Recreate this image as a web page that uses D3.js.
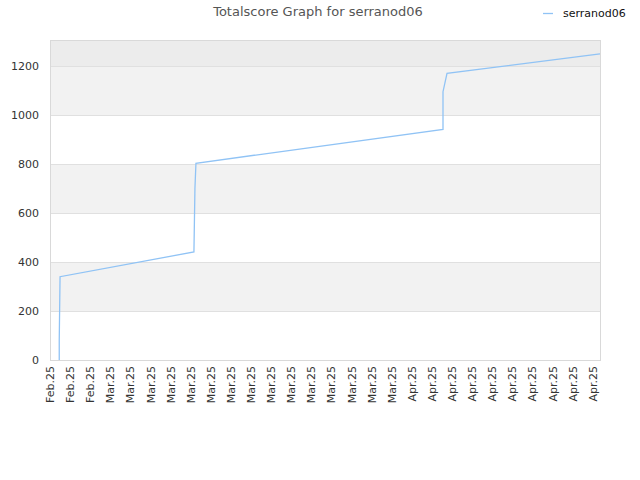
<!DOCTYPE html>
<html lang="en">
<head>
<meta charset="UTF-8">
<title>Totalscore Graph for serranod06</title>
<script src="https://d3js.org/d3.v7.min.js"></script>
<style>
  body { margin: 0; background: #fff; font-family: "DejaVu Sans", Verdana, sans-serif; }
</style>
</head>
<body>
<div id="chart"></div>
<script>
// tick labels along the x axis (one per slot)
const xLabels = ["Feb.25","Feb.25","Feb.25","Mar.25","Mar.25","Mar.25","Mar.25","Mar.25","Mar.25","Mar.25",
  "Mar.25","Mar.25","Mar.25","Mar.25","Mar.25","Mar.25","Mar.25","Mar.25","Apr.25","Apr.25",
  "Apr.25","Apr.25","Apr.25","Apr.25","Apr.25","Apr.25","Apr.25","Apr.25"];
// score series: position in label slots and total score
const scorePos = [0.46, 0.46, 0.50, 7.16, 7.21, 7.26, 19.55, 19.55, 19.75, 27.36];
const scoreVal = [0, 82, 340, 441, 700, 803, 941, 1095, 1170, 1249];
const yTicks = [0, 200, 400, 600, 800, 1000, 1200];
const xMax = 27.36;

const width = 640, height = 480;
const margin = {left: 50, right: 40, top: 40, bottom: 120};

const svg = d3.select("#chart").append("svg")
  .attr("width", width)
  .attr("height", height);

const x = d3.scaleLinear().domain([0, xMax]).range([margin.left, width - margin.right]);
const y = d3.scaleLinear().domain([0, 1306]).range([height - margin.bottom, margin.top]);

// background bands
const bands = [[200, 400, "#f2f2f2"], [600, 800, "#f2f2f2"], [1000, 1200, "#f2f2f2"], [1200, 1306, "#ececec"]];
svg.selectAll("rect.band")
  .data(bands)
  .enter().append("rect")
  .attr("x", margin.left)
  .attr("width", width - margin.right - margin.left)
  .attr("y", d => y(d[1]))
  .attr("height", d => y(d[0]) - y(d[1]))
  .attr("fill", d => d[2]);

// grid lines
svg.selectAll("line.grid")
  .data(yTicks.slice(1))
  .enter().append("line")
  .attr("x1", margin.left).attr("x2", width - margin.right)
  .attr("y1", d => Math.round(y(d)) + 0.5).attr("y2", d => Math.round(y(d)) + 0.5)
  .attr("stroke", "#e0e0e0");

// frame
svg.append("rect")
  .attr("x", margin.left + 0.5)
  .attr("y", margin.top + 0.5)
  .attr("width", width - margin.right - margin.left)
  .attr("height", height - margin.bottom - margin.top)
  .attr("fill", "none")
  .attr("stroke", "#d9d9d9");

// y labels
svg.selectAll("text.ylab")
  .data(yTicks)
  .enter().append("text")
  .attr("x", margin.left - 11)
  .attr("y", d => y(d))
  .attr("dy", "0.35em")
  .attr("text-anchor", "end")
  .attr("font-size", "11px")
  .attr("fill", "#333")
  .text(d => d);

// x labels
svg.selectAll("text.xlab")
  .data(xLabels)
  .enter().append("text")
  .attr("transform", (d, i) => `translate(${x(i) + 4},${height - margin.bottom + 6}) rotate(-90)`)
  .attr("text-anchor", "end")
  .attr("font-size", "11px")
  .attr("fill", "#333")
  .text(d => d);

// score line
const pts = scorePos.map((p, i) => [p, scoreVal[i]]);
svg.append("path")
  .datum(pts)
  .attr("fill", "none")
  .attr("stroke", "#90c3f5")
  .attr("stroke-width", 1.3)
  .attr("d", d3.line().x(d => x(d[0])).y(d => y(d[1])));

// title
svg.append("text")
  .attr("x", 318)
  .attr("y", 16)
  .attr("text-anchor", "middle")
  .attr("font-size", "13px")
  .attr("fill", "#555")
  .text("Totalscore Graph for serranod06");

// legend
svg.append("line")
  .attr("x1", 543).attr("x2", 553)
  .attr("y1", 13.5).attr("y2", 13.5)
  .attr("stroke", "#90c3f5")
  .attr("stroke-width", 1.3);
svg.append("text")
  .attr("x", 563)
  .attr("y", 13)
  .attr("dy", "0.35em")
  .attr("font-size", "11px")
  .attr("fill", "#111")
  .text("serranod06");
</script>
</body>
</html>
